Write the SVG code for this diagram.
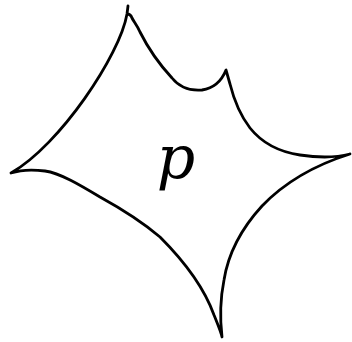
<svg xmlns="http://www.w3.org/2000/svg" width="352" height="342" viewBox="0 0 352 342">
<style>
.ink{fill:none;stroke:#000;stroke-width:2.8;stroke-linecap:round;stroke-linejoin:round}
.lbl{font-family:"DejaVu Serif",serif;font-style:italic;font-size:60px;fill:#000}
</style>
<rect width="352" height="342" fill="#fff"/>
<g id="shape">
<path class="ink" d="M128,6 L127,14 C120,55 60,145 11,173 C20,170 30,169 45,171 C60,173 80,185 100,197 C120,208 140,220 160,237 C185,262 205,290 214,315 C218,325 221,332 222,337 C220,320 220,300 224,280 C228,255 240,230 262,206 C285,182 315,165 350,154 C335,158 320,158 300,155 C280,152 262,143 250,128 C240,115 234,100 230,84 L226,70 C222,80 215,88 202,90 C190,91 180,88 172,78 C160,65 150,52 140,32 C137,25 134,22 132,18 C131,15 129,14 127,14"/>
</g>
<g id="label">
<text class="lbl" x="176" y="178" text-anchor="middle">p</text>
</g>
</svg>
